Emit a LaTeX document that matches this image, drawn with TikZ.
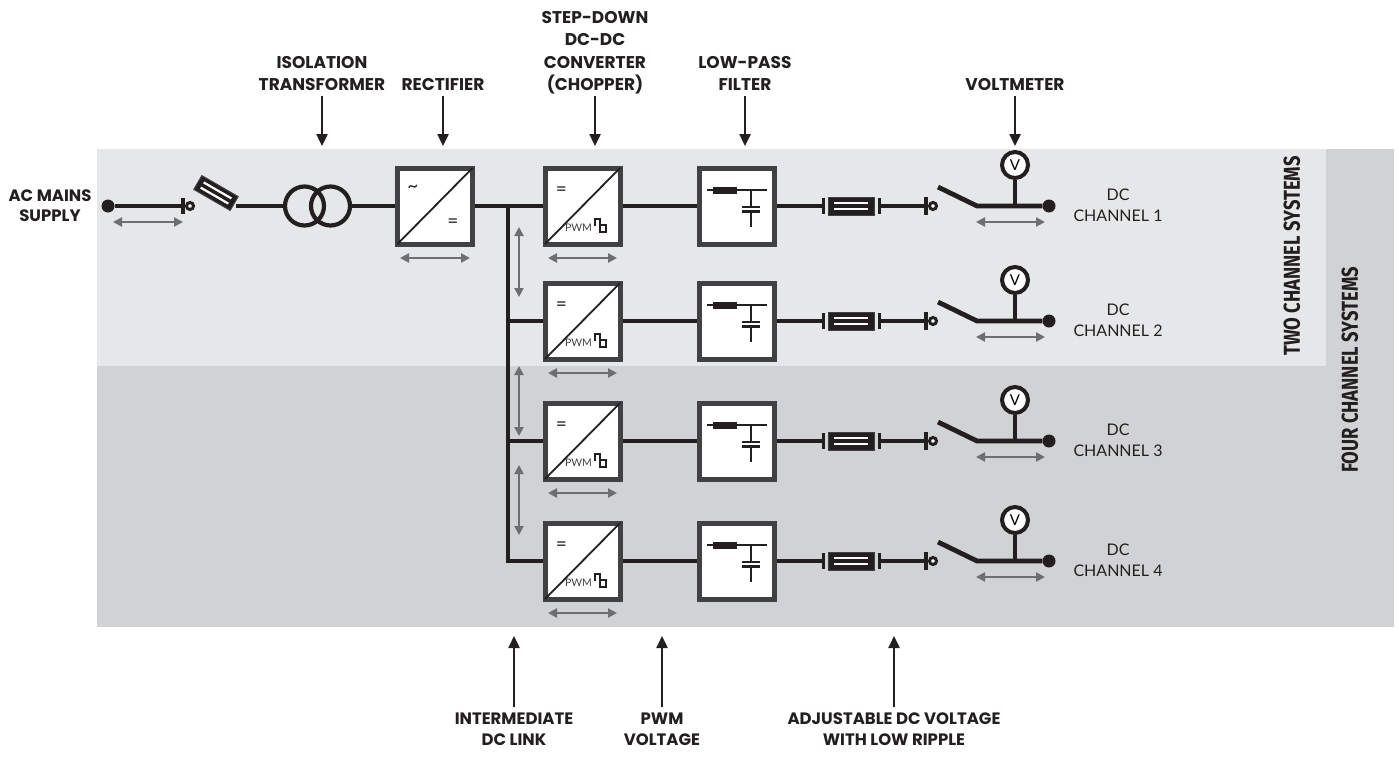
\documentclass[tikz,border=0pt]{standalone}
\usepackage{fontspec}
\setmainfont{Lato}
\newfontfamily\headfont{Poppins}
\newfontfamily\sidefont[FakeStretch=0.8]{Fira Sans}
\usetikzlibrary{arrows.meta,positioning}

\definecolor{cwire}{HTML}{231F20}
\definecolor{cframe}{HTML}{414042}
\definecolor{chint}{HTML}{6D6E71}
\definecolor{ctwo}{HTML}{E6E7E8}
\definecolor{cfour}{HTML}{D1D2D4}

\tikzset{
  wire/.style={draw=cwire, line width=4.8pt},
  unit/.style={draw=cframe, fill=white, line width=5pt, minimum width=75pt, minimum height=76pt, inner sep=0pt},
  coil/.style={circle, draw=cwire, line width=4.2pt, minimum size=39pt, inner sep=0pt},
  terminal/.style={circle, fill=cwire, minimum size=13pt, inner sep=0pt},
  socket/.style={circle, draw=cwire, fill=white, line width=3pt, minimum size=7pt, inner sep=0pt},
  meter/.style={circle, draw=cwire, fill=white, line width=4pt, minimum size=26pt, inner sep=0pt, font=\fontsize{15}{15}\selectfont},
  fusebox/.style={draw=cframe, fill=cwire, line width=1pt, minimum width=46pt, minimum height=18pt, inner sep=0pt},
  hint/.style={draw=chint, line width=2.6pt, {Triangle[width=9pt,length=9pt]}-{Triangle[width=9pt,length=9pt]}},
  tagarrow/.style={draw=cwire, line width=2.4pt, -{Triangle[width=11pt,length=12pt]}},
  headlbl/.style={font=\headfont\bfseries\fontsize{17}{22.5}\selectfont, text=cwire, align=center, inner sep=0pt, text depth=0pt, anchor=south},
  footlbl/.style={headlbl, font=\headfont\bfseries\fontsize{16.5}{21}\selectfont},
  chanlbl/.style={font=\fontsize{16}{21}\selectfont, text=cwire, align=center, inner sep=0pt, text depth=0pt, anchor=south},
  sidelbl/.style={font=\sidefont\bfseries\fontsize{23}{23}\selectfont, text=cwire, rotate=90, inner sep=0pt},
  smalltxt/.style={font=\fontsize{19}{19}\selectfont, text=cwire, inner sep=0pt},
}

\begin{document}
\begin{tikzpicture}[x=1pt, y=-1pt]
  \useasboundingbox (0,0) rectangle (1399,756);
  % panels
  \fill[cfour] (97,149) rectangle (1394,627);
  \fill[ctwo] (97,149) rectangle (1326,366);

  % mains side
  \node (acpin) [terminal] at (108,206) {};
  \coordinate (acbar) at (183,206);
  \draw[wire] (acpin) -- (acbar);
  \draw[cwire, line width=4pt] (183,198) -- (183,214);
  \node (acsock) [socket] at (190,206) {};
  \node (acfuse) [fusebox, minimum width=42pt, minimum height=16pt, rotate=-30] at (216,193) {};
  \begin{scope}[shift={(acfuse.center)}, rotate=-30]
    \draw[white, line width=2.2pt] (-16,-3) -- (16,-3) (-16,3) -- (16,3);
  \end{scope}
  \coordinate (acout) at (236,206);
  \node (tr1) [coil] at (304.5,206) {};
  \node (tr2) [coil] at (330.5,206) {};
  \node (rect) [unit] at (435,206) {};
  \draw[cwire, line width=1.8pt] ([shift={(2.5,-2.5)}]rect.south west) -- ([shift={(-2.5,2.5)}]rect.north east);
  \node (ac) [smalltxt] at ([shift={(-22,-17)}]rect.center) {\textasciitilde};
  \node (dc) [smalltxt] at ([shift={(18,17)}]rect.center) {=};
  \draw[wire] (acout) -- (tr1.west);
  \draw[wire] (tr2.east) -- (rect.west);
  \draw[hint] (113,222) -- (183,222);
  \draw[hint] (400,258) -- (470,258);

  % channels
  \foreach \n/\r in {1/206,2/321,3/441,4/561}{
    \node (ch\n) [unit] at (582.5,\r) {};
    \draw[cwire, line width=1.8pt] ([shift={(2.5,-2.5)}]ch\n.south west) -- ([shift={(-2.5,2.5)}]ch\n.north east);
    \node (eq\n) [smalltxt] at ([shift={(-21,-15)}]ch\n.center) {=};
    \node (pwm\n) [smalltxt, font=\fontsize{10.5}{10.5}\selectfont, text=cframe] at ([shift={(-4,22)}]ch\n.center) {PWM};
    \fill[cwire] (593.5,\r+11.5) rectangle (601,\r+19.5);
    \fill[white] (596,\r+14) rectangle (598.5,\r+19.5);
    \draw[cwire, line width=2pt] (600,\r+19) rectangle (606,\r+26);
    \draw[hint] (548,\r+52) -- (617,\r+52);

    \node (fl\n) [unit] at (737,\r) {};
    \draw[cwire, line width=2pt] (707,\r-16) -- (767,\r-16);
    \fill[cwire] (713,\r-19.5) rectangle (737,\r-12.5);
    \draw[cwire, line width=2pt] (751,\r-16) -- (751,\r+1) (751,\r+5.5) -- (751,\r+21);
    \draw[cwire, line width=2.5pt] (742,\r+1) -- (760,\r+1) (742,\r+5.5) -- (760,\r+5.5);
    \draw[wire] (ch\n.east) -- (fl\n.west);

    \coordinate (fa\n) at (823,\r);
    \coordinate (fb\n) at (879,\r);
    \node (fu\n) [fusebox] at (851,\r) {};
    \draw[white, line width=2.4pt] (834,\r-3.2) -- (868,\r-3.2) (834,\r+3.2) -- (868,\r+3.2);
    \draw[cwire, line width=3pt] (823,\r-8) -- (823,\r+8) (879,\r-8) -- (879,\r+8);
    \draw[wire] (fl\n.east) -- (fa\n);
    \coordinate (pl\n) at (926,\r);
    \draw[wire] (fb\n) -- (pl\n);
    \draw[cwire, line width=4pt] (926,\r-9) -- (926,\r+9);
    \node (so\n) [socket] at (933,\r) {};

    \coordinate (sw\n) at (938,\r-19);
    \coordinate (pv\n) at (977,\r);
    \node (out\n) [terminal] at (1049,\r) {};
    \draw[wire] (sw\n) -- (pv\n) -- (out\n);
    \node (vm\n) [meter] at (1015,\r-41) {V};
    \draw[cwire, line width=4pt] (vm\n.south) -- (vm\n.south |- out\n);
    \draw[hint] (976,\r+16) -- (1045,\r+16);
    \node (lblch\n) [chanlbl] at (1118,\r+16) {DC\\CHANNEL \n};
  }

  % intermediate dc link
  \coordinate (bus) at (508,206);
  \draw[wire] (rect.east) -- (ch1.west);
  \draw[wire] (bus) |- (ch4.west);
  \draw[wire] (bus |- ch2.west) -- (ch2.west);
  \draw[wire] (bus |- ch3.west) -- (ch3.west);
  \draw[hint] (519,227) -- (519,297);
  \draw[hint] (519,366) -- (519,436);
  \draw[hint] (519,465) -- (519,535);

  % labels
  \node (lblac) [footlbl, font=\headfont\bfseries\fontsize{16.5}{20}\selectfont] at (50,222) {AC MAINS\\SUPPLY};
  \node (lbliso) [headlbl] at (322,91) {ISOLATION\\TRANSFORMER};
  \node (lblrect) [headlbl] at (443,91) {RECTIFIER};
  \node (lblchop) [headlbl] at (595,91) {STEP-DOWN\\DC-DC\\CONVERTER\\(CHOPPER)};
  \node (lblfilt) [headlbl] at (745,91) {LOW-PASS\\FILTER};
  \node (lblvm) [headlbl] at (1015,91) {VOLTMETER};
  \coordinate (isotip) at (322,146);
  \coordinate (recttip) at (443,146);
  \coordinate (choptip) at (595,146);
  \coordinate (filttip) at (745,146);
  \coordinate (vmtip) at (1015,146);
  \draw[tagarrow, shorten <=5pt] (lbliso) -- (isotip);
  \draw[tagarrow, shorten <=5pt] (lblrect) -- (recttip);
  \draw[tagarrow, shorten <=5pt] (lblchop) -- (choptip);
  \draw[tagarrow, shorten <=5pt] (lblfilt) -- (filttip);
  \draw[tagarrow, shorten <=5pt] (lblvm) -- (vmtip);

  \node (lbllink) [footlbl] at (514,746) {INTERMEDIATE\\DC LINK};
  \node (lblpwm) [footlbl] at (662,746) {PWM\\VOLTAGE};
  \node (lbladj) [footlbl] at (894,746) {ADJUSTABLE DC VOLTAGE\\WITH LOW RIPPLE};
  \coordinate (linktip) at (514,636);
  \coordinate (pwmtip) at (662,636);
  \coordinate (adjtip) at (894,636);
  \draw[tagarrow, shorten <=6pt] (lbllink) -- (linktip);
  \draw[tagarrow, shorten <=6pt] (lblpwm) -- (pwmtip);
  \draw[tagarrow, shorten <=6pt] (lbladj) -- (adjtip);

  \node (lbltwo) [sidelbl] at (1292,256) {TWO CHANNEL SYSTEMS};
  \node (lblfour) [sidelbl] at (1350,370) {FOUR CHANNEL SYSTEMS};
\end{tikzpicture}
\end{document}
